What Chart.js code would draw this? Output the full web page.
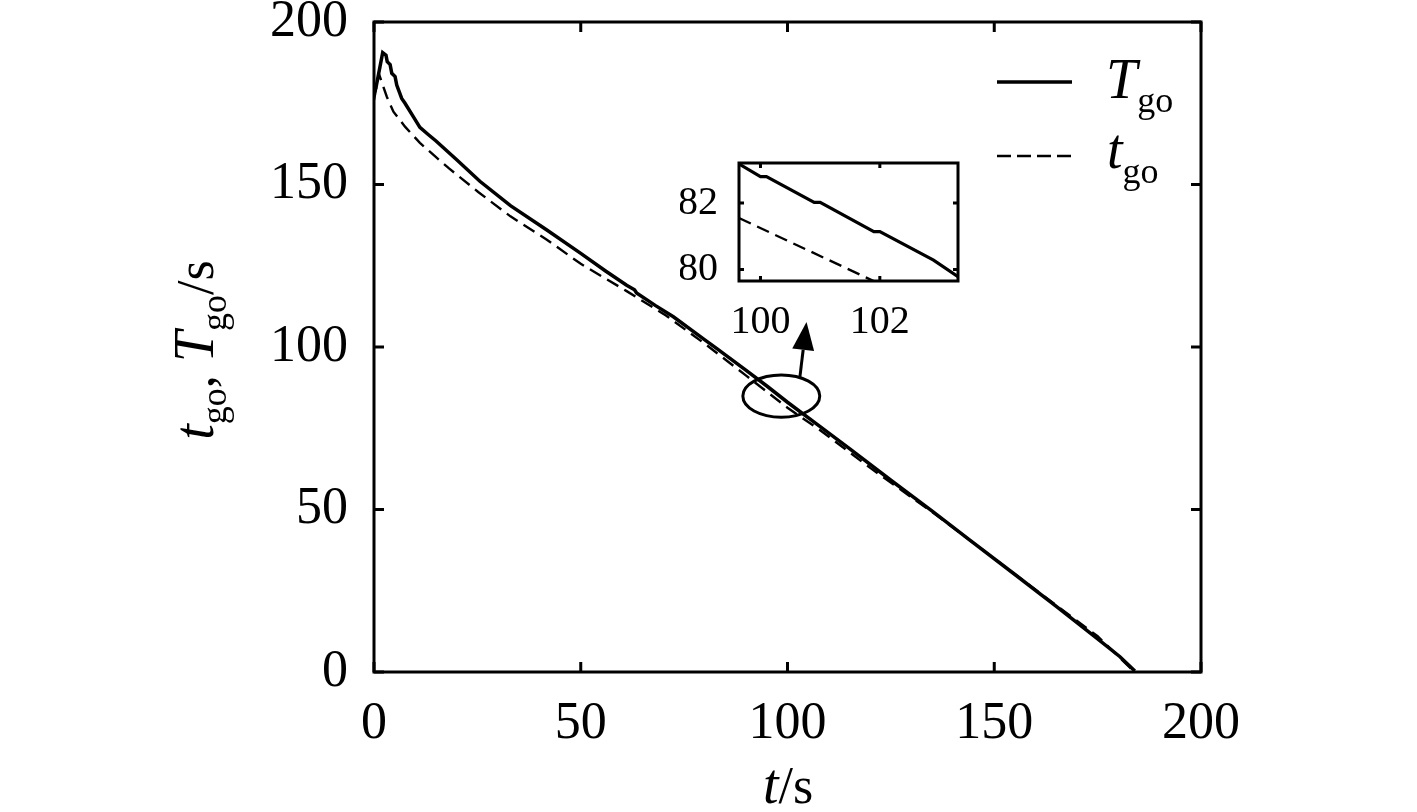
<!DOCTYPE html>
<html>
<head>
<meta charset="utf-8">
<script src="https://cdn.jsdelivr.net/npm/chart.js@4.4.1/dist/chart.umd.min.js"></script>
<style>
  html, body { margin: 0; padding: 0; background: #fff; overflow: hidden; }
  #wrap { position: relative; width: 1417px; height: 812px; }
  #main { position: absolute; left: 0; top: 0; }
  #inset { position: absolute; left: 680px; top: 150px; }
</style>
</head>
<body>
<div id="wrap">
  <canvas id="main" width="1417" height="812"></canvas>
  <canvas id="inset" width="290" height="190"></canvas>
</div>
<script>
// T_go (solid)
const bigTgoTimes = [0, 0.5, 2.1, 2.9, 3.2, 3.9, 4.3, 5.1, 5.5, 6.7, 7.5, 9.5, 11.1, 13.1, 15, 20, 25.6, 33, 41.8, 50, 56, 61.1, 63, 63.5, 68, 72.4, 80, 83, 90, 95, 100, 107.9, 115, 125, 135, 144.1, 155, 165, 175, 180.4, 184];
const bigTgoValues = [178, 180, 190.6, 189.8, 187.8, 186.9, 184.2, 183.2, 180.6, 176.5, 175, 170.9, 167.6, 165.4, 163.4, 157.6, 151, 143.5, 136, 128.8, 123.4, 119, 117.6, 116.6, 112.8, 109.3, 102.2, 99.4, 92.8, 88.0, 83.0, 75.5, 68.7, 59.0, 49.5, 40.6, 30.0, 20.2, 10.2, 4.7, 0.3];

// t_go (dashed)
const smallTgoTimes = [0, 1.2, 3.1, 4.7, 7.5, 11.1, 15, 18, 25.2, 33, 41.8, 50, 61.1, 70.7, 80, 90, 100, 107.9, 120, 135, 150, 165, 175, 183.6];
const smallTgoValues = [176, 184, 177, 172.4, 167.8, 162.8, 158.4, 155.1, 147.7, 140.2, 133, 125.6, 117.2, 109.6, 101, 91.2, 81.3, 74.4, 62.8, 49.2, 34.9, 20.5, 11.0, 0.4];

// zoomed inset (t = 99.6 .. 103.3 s)
const insetTgoTimes = [99.64, 100.0, 100.1, 100.9, 101.0, 101.9, 102.0, 102.9, 103.31];
const insetTgoValues = [83.18, 82.8, 82.8, 82.02, 82.02, 81.14, 81.14, 80.28, 79.78];
const insetSmallTimes = [99.64, 102.0];
const insetSmallValues = [81.55, 79.56];

const mainTicks = [0, 50, 100, 150, 200];
const insetXTicks = [100, 102];
const insetYTicks = [80, 82];

// ellipse + arrow marking the zoomed region (data units)
const markCenter = [98.5, 84.9];
const markRadius = [9.3, 6.5];
const arrowFrom = [103.0, 90.8];
const arrowTo = [104.6, 107.7];

const SERIF = '"Liberation Serif", "Times New Roman", serif';

function toPoints(xs, ys) {
  return xs.map((x, i) => ({ x: x, y: ys[i] }));
}

// keep tick labels from pushing the plot area around
function noPad(s) {
  s.paddingTop = 0; s.paddingBottom = 0;
  s.paddingLeft = 0; s.paddingRight = 0;
}

// draws box frame with inward ticks on all four sides
function framePlugin(tickLen, width) {
  return {
    id: 'frame',
    afterDatasetsDraw(chart) {
      const { ctx, chartArea: a, scales } = chart;
      ctx.save();
      ctx.strokeStyle = '#000';
      ctx.lineWidth = width;
      ctx.strokeRect(a.left, a.top, a.right - a.left, a.bottom - a.top);
      ctx.beginPath();
      scales.x.ticks.forEach(t => {
        const px = scales.x.getPixelForValue(t.value);
        ctx.moveTo(px, a.bottom); ctx.lineTo(px, a.bottom - tickLen);
        ctx.moveTo(px, a.top); ctx.lineTo(px, a.top + tickLen);
      });
      scales.y.ticks.forEach(t => {
        const py = scales.y.getPixelForValue(t.value);
        ctx.moveTo(a.left, py); ctx.lineTo(a.left + tickLen, py);
        ctx.moveTo(a.right, py); ctx.lineTo(a.right - tickLen, py);
      });
      ctx.stroke();
      ctx.restore();
    }
  };
}

// draws pieces of text: [text, font, dy]
function drawPieces(ctx, pieces, x, y, centered) {
  let total = 0;
  pieces.forEach(p => { ctx.font = p[1]; total += ctx.measureText(p[0]).width; });
  let cx = centered ? x - total / 2 : x;
  pieces.forEach(p => {
    ctx.font = p[1];
    ctx.fillText(p[0], cx, y + p[2]);
    cx += ctx.measureText(p[0]).width;
  });
}

const labelsPlugin = {
  id: 'labels',
  afterDraw(chart) {
    const { ctx, scales } = chart;
    const it = 'italic 56px ' + SERIF;
    const rg = '52px ' + SERIF;
    const sb = '36px ' + SERIF;
    ctx.save();
    ctx.fillStyle = '#000';
    ctx.textBaseline = 'alphabetic';
    ctx.textAlign = 'left';

    // ellipse and arrow
    const ex = scales.x.getPixelForValue(markCenter[0]);
    const ey = scales.y.getPixelForValue(markCenter[1]);
    const rx = scales.x.getPixelForValue(markCenter[0] + markRadius[0]) - ex;
    const ry = ey - scales.y.getPixelForValue(markCenter[1] + markRadius[1]);
    ctx.lineWidth = 3;
    ctx.strokeStyle = '#000';
    ctx.beginPath();
    ctx.ellipse(ex, ey, rx, ry, 0, 0, Math.PI * 2);
    ctx.stroke();

    const ax = scales.x.getPixelForValue(arrowFrom[0]);
    const ay = scales.y.getPixelForValue(arrowFrom[1]);
    const bx = scales.x.getPixelForValue(arrowTo[0]);
    const by = scales.y.getPixelForValue(arrowTo[1]);
    const ang = Math.atan2(by - ay, bx - ax);
    const headLen = 28, headW = 11;
    const hx = bx - headLen * Math.cos(ang), hy = by - headLen * Math.sin(ang);
    ctx.beginPath();
    ctx.moveTo(ax, ay); ctx.lineTo(hx, hy);
    ctx.stroke();
    ctx.beginPath();
    ctx.moveTo(bx, by);
    ctx.lineTo(hx + headW * Math.sin(ang), hy - headW * Math.cos(ang));
    ctx.lineTo(hx - headW * Math.sin(ang), hy + headW * Math.cos(ang));
    ctx.closePath();
    ctx.fill();

    // legend
    ctx.lineWidth = 3.5;
    ctx.beginPath();
    ctx.moveTo(997, 82); ctx.lineTo(1072, 82);
    ctx.stroke();
    ctx.lineWidth = 2.4;
    ctx.setLineDash([14, 6]);
    ctx.beginPath();
    ctx.moveTo(997, 156); ctx.lineTo(1072, 156);
    ctx.stroke();
    ctx.setLineDash([]);
    drawPieces(ctx, [['T', it, 0], ['go', sb, 14]], 1106, 98, false);
    drawPieces(ctx, [['t', it, 0], ['go', sb, 15]], 1107, 168, false);

    // x title
    drawPieces(ctx, [['t', it, 0], ['/s', rg, 0]], 788, 803, true);

    // y title (rotated)
    ctx.translate(213, 350);
    ctx.rotate(-Math.PI / 2);
    drawPieces(ctx, [['t', it, 0], ['go', sb, 13], [', ', rg, 0], ['T', it, 0], ['go', sb, 13], ['/s', rg, 0]], 0, 0, true);
    ctx.restore();
  }
};

// Main chart: T_go and t_go against t
new Chart(document.getElementById("main"), {
  type: 'line',
  data: {
    datasets: [{
      label: 'Tgo',
      data: toPoints(bigTgoTimes, bigTgoValues),
      borderColor: '#000',
      borderWidth: 3.5,
      pointRadius: 0,
      tension: 0
    }, {
      label: 'tgo',
      data: toPoints(smallTgoTimes, smallTgoValues),
      borderColor: '#000',
      borderWidth: 2.4,
      borderDash: [13, 7],
      pointRadius: 0,
      tension: 0
    }]
  },
  options: {
    responsive: false,
    animation: false,
    devicePixelRatio: 1,
    layout: { padding: { top: 22, right: 216, left: 0, bottom: 0 } },
    plugins: {
      legend: { display: false },
      tooltip: { enabled: false }
    },
    scales: {
      x: {
        type: 'linear',
        min: 0, max: 200,
        afterBuildTicks: s => { s.ticks = mainTicks.map(v => ({ value: v })); },
        afterFit: s => { s.height = 140; noPad(s); },
        grid: { display: false, drawTicks: false },
        border: { display: false },
        ticks: { padding: 21, color: '#000', font: { family: SERIF, size: 52 } }
      },
      y: {
        type: 'linear',
        min: 0, max: 200,
        afterBuildTicks: s => { s.ticks = mainTicks.map(v => ({ value: v })); },
        afterFit: s => { s.width = 374; noPad(s); },
        grid: { display: false, drawTicks: false },
        border: { display: false },
        ticks: { padding: 26, color: '#000', font: { family: SERIF, size: 52 } }
      }
    }
  },
  plugins: [framePlugin(10, 3), labelsPlugin]
});

// Inset: zoom of t = 100..103 s
new Chart(document.getElementById("inset"), {
  type: 'line',
  data: {
    datasets: [{
      data: toPoints(insetTgoTimes, insetTgoValues),
      borderColor: '#000',
      borderWidth: 3.2,
      pointRadius: 0,
      tension: 0
    }, {
      data: toPoints(insetSmallTimes, insetSmallValues),
      borderColor: '#000',
      borderWidth: 2.4,
      borderDash: [13, 7],
      pointRadius: 0,
      tension: 0
    }]
  },
  options: {
    responsive: false,
    animation: false,
    devicePixelRatio: 1,
    layout: { padding: { top: 13, right: 12, left: 0, bottom: 0 } },
    plugins: {
      legend: { display: false },
      tooltip: { enabled: false }
    },
    scales: {
      x: {
        type: 'linear',
        min: 99.64, max: 103.31,
        afterBuildTicks: s => { s.ticks = insetXTicks.map(v => ({ value: v })); },
        afterFit: s => { s.height = 59; noPad(s); },
        grid: { display: false, drawTicks: false },
        border: { display: false },
        ticks: { padding: 17, color: '#000', font: { family: SERIF, size: 40 } }
      },
      y: {
        type: 'linear',
        min: 79.65, max: 83.21,
        afterBuildTicks: s => { s.ticks = insetYTicks.map(v => ({ value: v })); },
        afterFit: s => { s.width = 59; noPad(s); },
        grid: { display: false, drawTicks: false },
        border: { display: false },
        ticks: { padding: 21, color: '#000', font: { family: SERIF, size: 40 } }
      }
    }
  },
  plugins: [framePlugin(5, 3)]
});
</script>
</body>
</html>
